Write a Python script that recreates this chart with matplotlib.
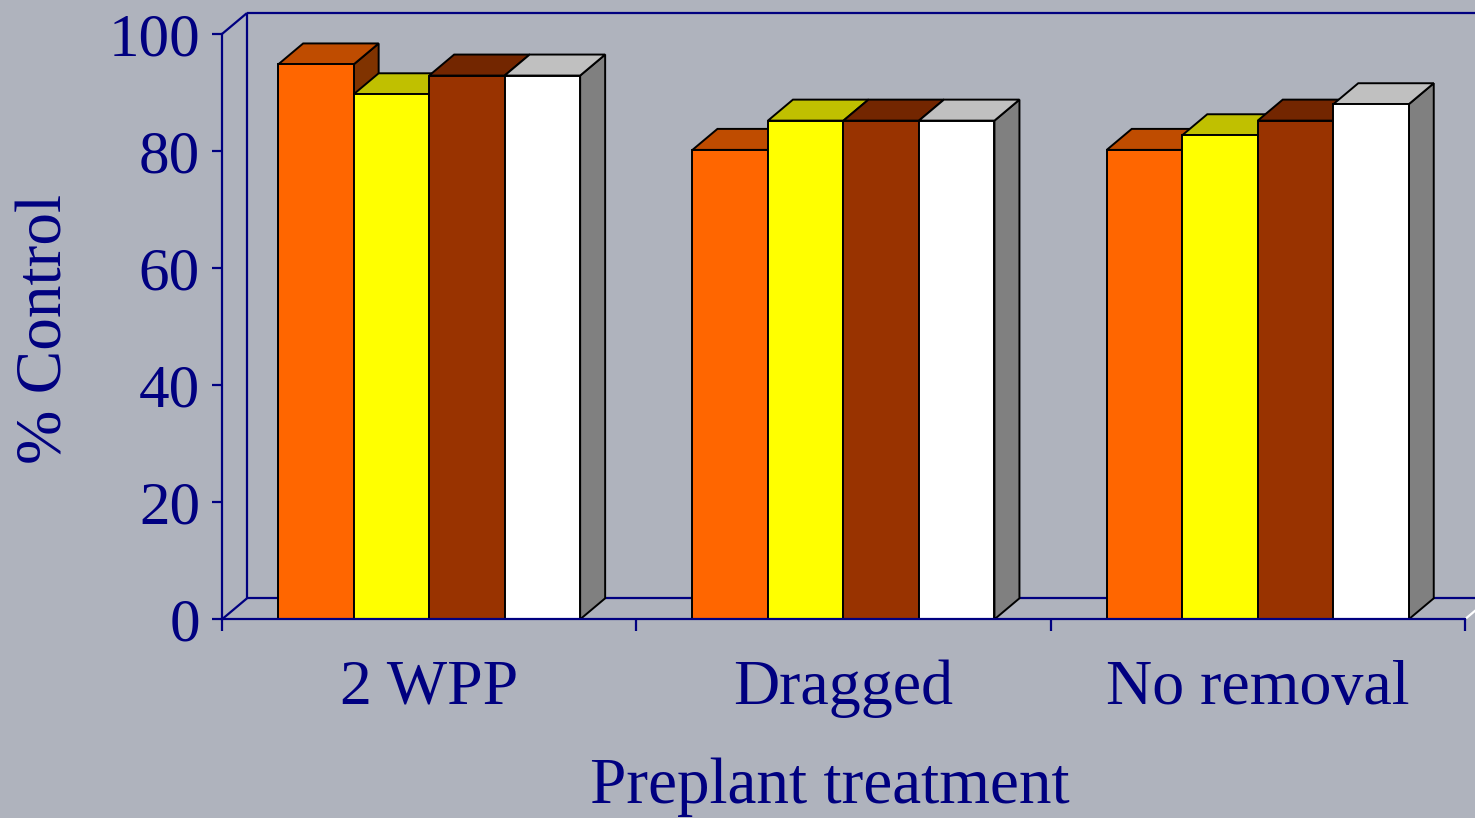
import matplotlib.pyplot as plt
from matplotlib.patches import Polygon

plt.rcParams['font.family'] = ['Liberation Serif', 'DejaVu Serif']

categories = ["2 WPP", "Dragged", "No removal"]
# one list per series, values across the three categories
series_a = [94.8, 80.2, 80.2]
series_b = [89.7, 85.2, 82.7]
series_c = [92.9, 85.2, 85.2]
series_d = [92.9, 85.2, 88.0]
yticks = [0, 20, 40, 60, 80, 100]

all_series = [series_a, series_b, series_c, series_d]
# (front, top, side) shades, Excel style
shades = [
    ("#FF6600", "#BF4C00", "#803300"),
    ("#FFFF00", "#C0C000", "#808000"),
    ("#993300", "#732600", "#4D1A00"),
    ("#FFFFFF", "#C0C0C0", "#808080"),
]

navy = "#000080"
bg = "#AFB3BD"

fig = plt.figure(figsize=(14.75, 8.18), dpi=100)
fig.patch.set_facecolor(bg)
ax = fig.add_axes([222 / 1475, (818 - 619.3) / 818, 1 - 222 / 1475, 619.3 / 818])
ax.set_facecolor(bg)
ax.set_xlim(0, (1475 - 222) / 414.3)
ax.set_ylim(0, 619.3 / 5.853)

dx = 25 / 414.3   # depth offset in category units
dy = 21 / 5.853   # depth offset in value units
bw = 75.5 / 414.3
off = (1 - 4 * bw) / 2
xmax = ax.get_xlim()[1] + 0.1

# walls and floor
wall = dict(color=navy, lw=1.6, zorder=1, solid_capstyle="butt")
ax.plot([dx, dx], [dy, 100 + dy], **wall)
ax.plot([0, dx], [100, 100 + dy], clip_on=False, **wall)
ax.plot([dx, xmax], [100 + dy, 100 + dy], **wall)
ax.plot([dx, xmax], [dy, dy], **wall)
ax.plot([0, dx], [0, dy], **wall)
ax.plot([3, 3 + dx], [0, dy], color="white", lw=1.6, zorder=1)

# 3D bars
for i in range(len(categories)):
    for j, vals in enumerate(all_series):
        h = vals[i]
        x0 = i + off + j * bw
        x1 = x0 + bw
        front, top, side = shades[j]
        kw = dict(edgecolor="black", lw=1.4, joinstyle="miter", zorder=2)
        ax.add_patch(Polygon([(x1, 0), (x1 + dx, dy), (x1 + dx, h + dy), (x1, h)],
                             facecolor=side, **kw))
        ax.add_patch(Polygon([(x0, h), (x0 + dx, h + dy), (x1 + dx, h + dy), (x1, h)],
                             facecolor=top, **kw))
        ax.add_patch(Polygon([(x0, 0), (x0, h), (x1, h), (x1, 0)],
                             facecolor=front, **kw))

# axes
for s in ["top", "right"]:
    ax.spines[s].set_visible(False)
for s in ["left", "bottom"]:
    ax.spines[s].set_color(navy)
    ax.spines[s].set_linewidth(1.6)
    ax.spines[s].set_zorder(3)
ax.spines["left"].set_bounds(0, 100)
ax.spines["bottom"].set_bounds(0, 3)

ax.set_yticks(yticks)
ax.set_yticklabels([str(t) for t in yticks])
ax.tick_params(axis="y", colors=navy, labelsize=44, length=7.2, width=1.6, pad=8.6)

ax.set_xticks([0, 1, 2, 3])
ax.set_xticklabels([])
ax.set_xticks([0.5, 1.5, 2.5], minor=True)
ax.set_xticklabels(categories, minor=True)
ax.tick_params(axis="x", which="major", colors=navy, length=8.6, width=1.6)
ax.tick_params(axis="x", which="minor", colors=navy, labelsize=46, length=0, pad=29)

ax.set_xlabel("Preplant treatment", fontsize=47, color=navy)
ax.xaxis.set_label_coords((830 - 222) / 1253, -138 / 619.3)
ax.set_ylabel("% Control", fontsize=47, color=navy)
ax.yaxis.set_label_coords((76 - 222) / 1253, (619.3 - 329) / 619.3)

fig.savefig("out.png", dpi=100, facecolor=bg)
